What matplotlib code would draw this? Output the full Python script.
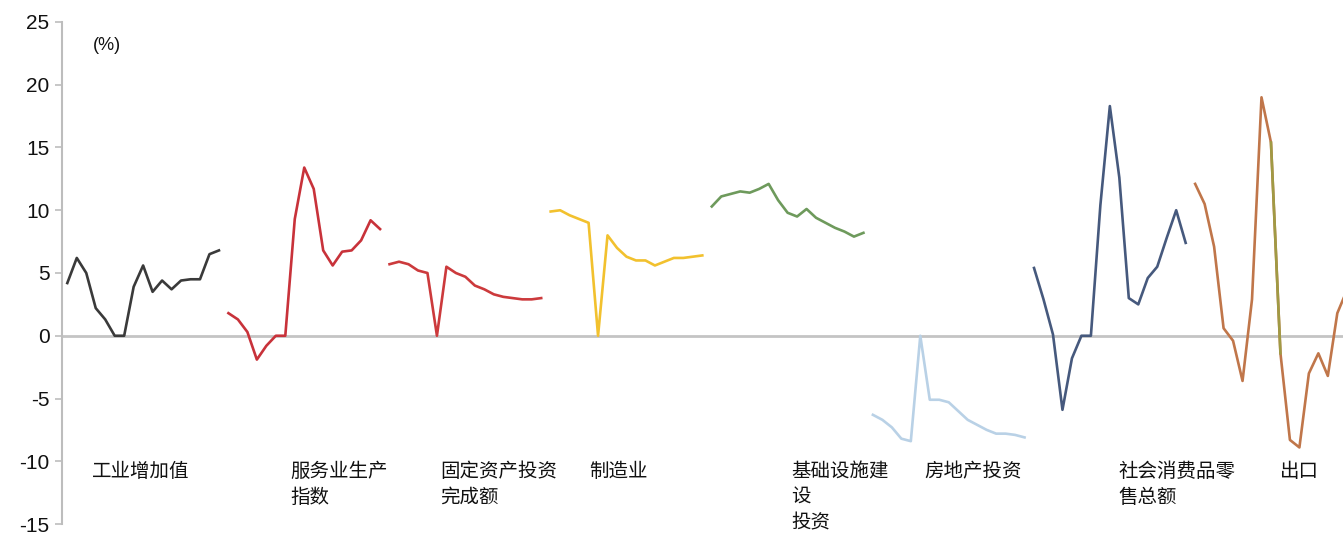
import numpy as np
import matplotlib
matplotlib.use("Agg")
import matplotlib.pyplot as plt

plt.rcParams['font.family'] = ['Liberation Sans', 'Noto Sans CJK SC', 'DejaVu Sans']
plt.rcParams['axes.unicode_minus'] = False

# data (%), 17 points per series, series drawn one after another
names = ['工业增加值', '服务业生产\n指数', '固定资产投资\n完成额', '制造业',
         '基础设施建\n设\n投资', '房地产投资', '社会消费品零\n售总额', '出口']

industry = [4.2, 6.2, 5.0, 2.2, 1.3, 0, 0, 3.9, 5.6, 3.5, 4.4, 3.7, 4.4, 4.5, 4.5, 6.5, 6.8]
services = [1.8, 1.3, 0.3, -1.9, -0.8, 0, 0, 9.3, 13.4, 11.7, 6.8, 5.6, 6.7, 6.8, 7.6, 9.2, 8.5]
fixed_inv = [5.7, 5.9, 5.7, 5.2, 5.0, 0, 5.5, 5.0, 4.7, 4.0, 3.7, 3.3, 3.1, 3.0, 2.9, 2.9, 3.0]
manufact = [9.9, 10.0, 9.6, 9.3, 9.0, 0, 8.0, 7.0, 6.3, 6.0, 6.0, 5.6, 5.9, 6.2, 6.2, 6.3, 6.4]
infra = [10.3, 11.1, 11.3, 11.5, 11.4, 11.7, 12.1, 10.8, 9.8, 9.5, 10.1, 9.4, 9.0, 8.6, 8.3, 7.9, 8.2]
property_inv = [-6.3, -6.7, -7.3, -8.2, -8.4, 0, -5.1, -5.1, -5.3, -6.0, -6.7, -7.1, -7.5, -7.8, -7.8, -7.9, -8.1]
retail = [5.4, 2.9, 0.1, -5.9, -1.8, 0, 0, 10.4, 18.3, 12.6, 3.0, 2.5, 4.6, 5.5, 7.8, 10.0, 7.4]
exports = [12.1, 10.5, 7.1, 0.6, -0.4, -3.6, 2.9, 19.0, 15.4, -1.4, -8.3, -8.9, -3.0, -1.4, -3.2, 1.8, 3.6]

series = [industry, services, fixed_inv, manufact, infra, property_inv, retail, exports]
colors = ['#3a3a3a', '#c8323a', '#cc3a3c', '#f2c12e', '#6e9a5c', '#b9d1e6', '#46597d', '#c0764a']

label_x = [2.6, 23.5, 39.3, 55.1, 76.4, 90.4, 110.9, 128.0]

fig = plt.figure(figsize=(13.43, 5.33), dpi=100)
ax = fig.add_axes([62 / 1343, 9 / 533, 1 - 62 / 1343, 502 / 533])

ax.axhline(0, color='#c4c4c4', lw=2, zorder=1)

n = len(industry)
for k, (vals, c) in enumerate(zip(series, colors)):
    x = np.arange(n) + k * n
    ax.plot(x, vals, color=c, lw=1.9, zorder=2, solid_joinstyle='round')

# the falling stretch of the export line shows in olive
xe = np.arange(n) + 7 * n
ax.plot(xe[8:10], exports[8:10], color='#a09a44', lw=1.9, zorder=3)

for name, lx in zip(names, label_x):
    ax.text(lx, -10.0, name, fontsize=14, va='top', ha='left',
            family=['Noto Sans CJK SC'], linespacing=1.3, color='#111111')

ax.text(2.7, 23.8, '(%)', fontsize=13, va='top', ha='left', color='#111111')

ax.set_xlim(-0.56, 134.6)
ax.set_ylim(-15, 25)
ax.set_yticks(np.arange(-15, 26, 5))
ax.set_xticks([])
for s in ['top', 'right', 'bottom']:
    ax.spines[s].set_visible(False)
ax.spines['left'].set_color('#bdbdbd')
ax.spines['left'].set_linewidth(1.5)
ax.tick_params(axis='y', length=5, width=1.2, color='#bdbdbd', labelsize=15, pad=4,
               labelcolor='#111111')

plt.savefig('out.png', dpi=100)
